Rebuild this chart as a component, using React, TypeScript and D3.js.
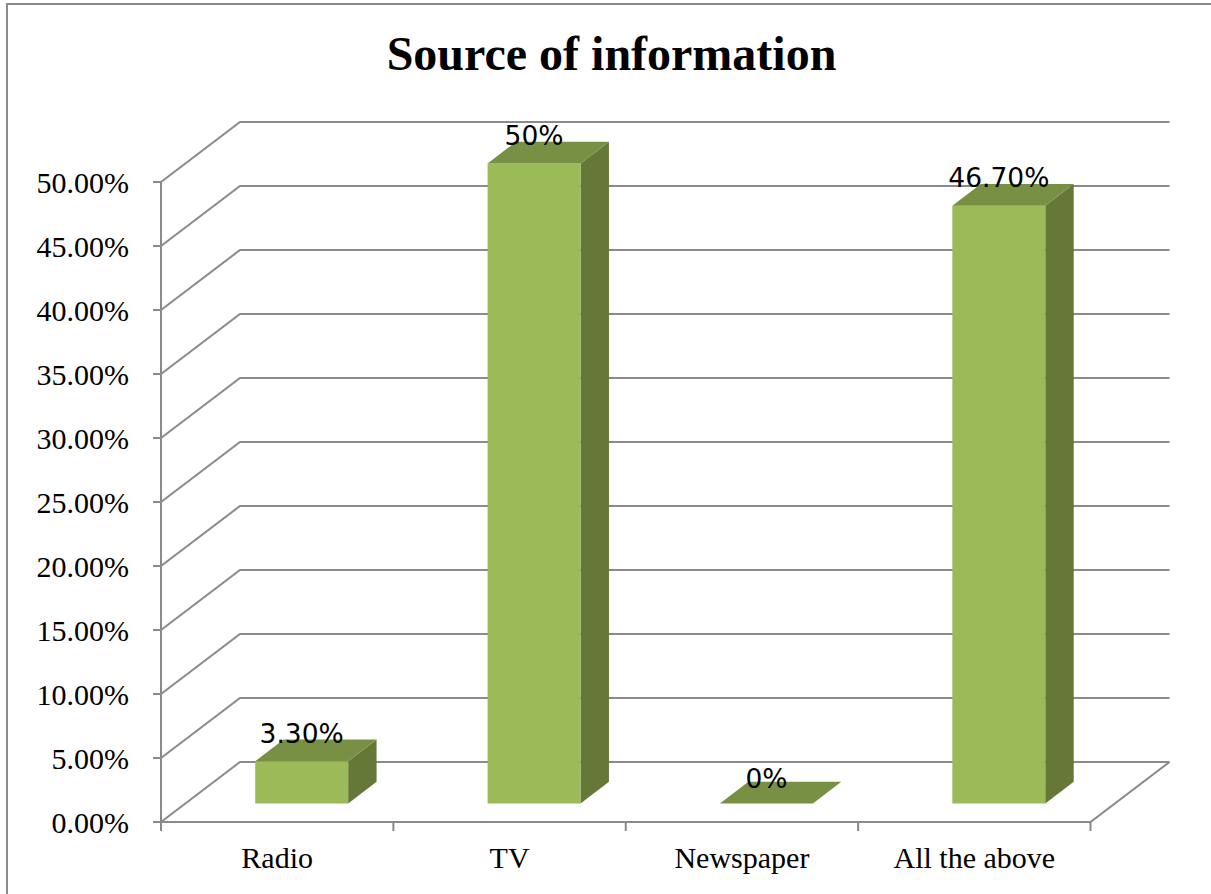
import React from "react";
import * as d3 from "d3";

const categories = ["Radio", "TV", "Newspaper", "All the above"];
const values = [0.033, 0.5, 0, 0.467];
const valueLabels = ["3.30%", "50%", "0%", "46.70%"];
const yTicks = [0, 0.05, 0.1, 0.15, 0.2, 0.25, 0.3, 0.35, 0.4, 0.45, 0.5];
const title = "Source of information";

const W = 1211;
const H = 894;
const DX = 79;
const DY = 60;
const Z0 = 0.31;
const Z1 = 0.67;
const GRID = "#8a8a8a";
const FRONT = "#9bbb59";
const TOP = "#789044";
const SIDE = "#657838";
const SERIF = "Liberation Serif";

export default function App() {
  const x = d3
    .scaleBand<string>()
    .domain(categories)
    .range([161, 1090.5])
    .paddingInner(0.6)
    .paddingOuter(0.3);
  const y = d3.scaleLinear().domain([0, 0.5]).range([822, 182]);
  const x0 = 161;
  const x1 = 1090.5;
  const fmt = d3.format(".2%");
  const P = (px: number, v: number, z: number) => [px + z * DX, y(v) - z * DY];
  const poly = (pts: number[][]) => pts.map((p) => p.join(",")).join(" ");
  const step = x.step();
  const boundaries = d3.range(categories.length + 1).map((i) => x0 + i * step);

  return (
    <svg
      width={W}
      height={H}
      style={{ position: "absolute", left: 0, top: 0, background: "#fff" }}
    >
      <rect x={7} y={4} width={W} height={H} fill="#fff" stroke="#8c8c8c" strokeWidth={2} />
      <text
        x={611.5}
        y={70}
        textAnchor="middle"
        style={{ fontFamily: SERIF }}
        fontWeight="bold"
        fontSize={48}
        fill="#000"
      >
        {title}
      </text>

      {yTicks.map((t) => {
        const a = P(x0, t, 0);
        const b = P(x0, t, 1);
        const c = P(x1, t, 1);
        return (
          <polyline
            key={"g" + t}
            points={poly([a, b, c])}
            fill="none"
            stroke={GRID}
            strokeWidth={2}
          />
        );
      })}
      <polyline
        points={poly([P(x0, 0, 0), P(x1, 0, 0), P(x1, 0, 1)])}
        fill="none"
        stroke={GRID}
        strokeWidth={2}
      />
      <line x1={x0} x2={x0} y1={y(0.5)} y2={y(0)} stroke={GRID} strokeWidth={2} />
      {yTicks.map((t) => (
        <g key={"t" + t}>
          <line x1={x0 - 8} x2={x0} y1={y(t)} y2={y(t)} stroke={GRID} strokeWidth={2} />
          <text
            x={129}
            y={y(t)}
            dy="0.35em"
            textAnchor="end"
            style={{ fontFamily: SERIF }}
            fontSize={30}
            fill="#000"
          >
            {fmt(t)}
          </text>
        </g>
      ))}
      {boundaries.map((bx, i) => (
        <line key={"xt" + i} x1={bx} x2={bx} y1={y(0)} y2={y(0) + 9} stroke={GRID} strokeWidth={2} />
      ))}

      {categories.map((c, i) => {
        const v = values[i];
        const bl = x(c)!;
        const br = bl + x.bandwidth();
        const front = [P(bl, v, Z0), P(br, v, Z0), P(br, 0, Z0), P(bl, 0, Z0)];
        const top = [P(bl, v, Z0), P(br, v, Z0), P(br, v, Z1), P(bl, v, Z1)];
        const side = [P(br, v, Z0), P(br, 0, Z0), P(br, 0, Z1), P(br, v, Z1)];
        return (
          <g key={c}>
            {v > 0 && <polygon points={poly(side)} fill={SIDE} />}
            {v > 0 && <polygon points={poly(front)} fill={FRONT} />}
            <polygon points={poly(top)} fill={TOP} />
          </g>
        );
      })}

      {categories.map((c, i) => {
        const v = values[i];
        const cx = x(c)! + x.bandwidth() / 2 + Z0 * DX;
        const ly = y(v) - Z1 * DY + (v === 0 ? 6 : 3);
        return (
          <text
            key={"l" + c}
            x={cx}
            y={ly}
            textAnchor="middle"
            style={{ fontFamily: "DejaVu Sans" }}
            fontSize={26.5}
            fill="#000"
          >
            {valueLabels[i]}
          </text>
        );
      })}

      {categories.map((c) => (
        <text
          key={"c" + c}
          x={x(c)! + x.bandwidth() / 2}
          y={868}
          textAnchor="middle"
          style={{ fontFamily: SERIF }}
          fontSize={30}
          fill="#000"
        >
          {c}
        </text>
      ))}
    </svg>
  );
}
